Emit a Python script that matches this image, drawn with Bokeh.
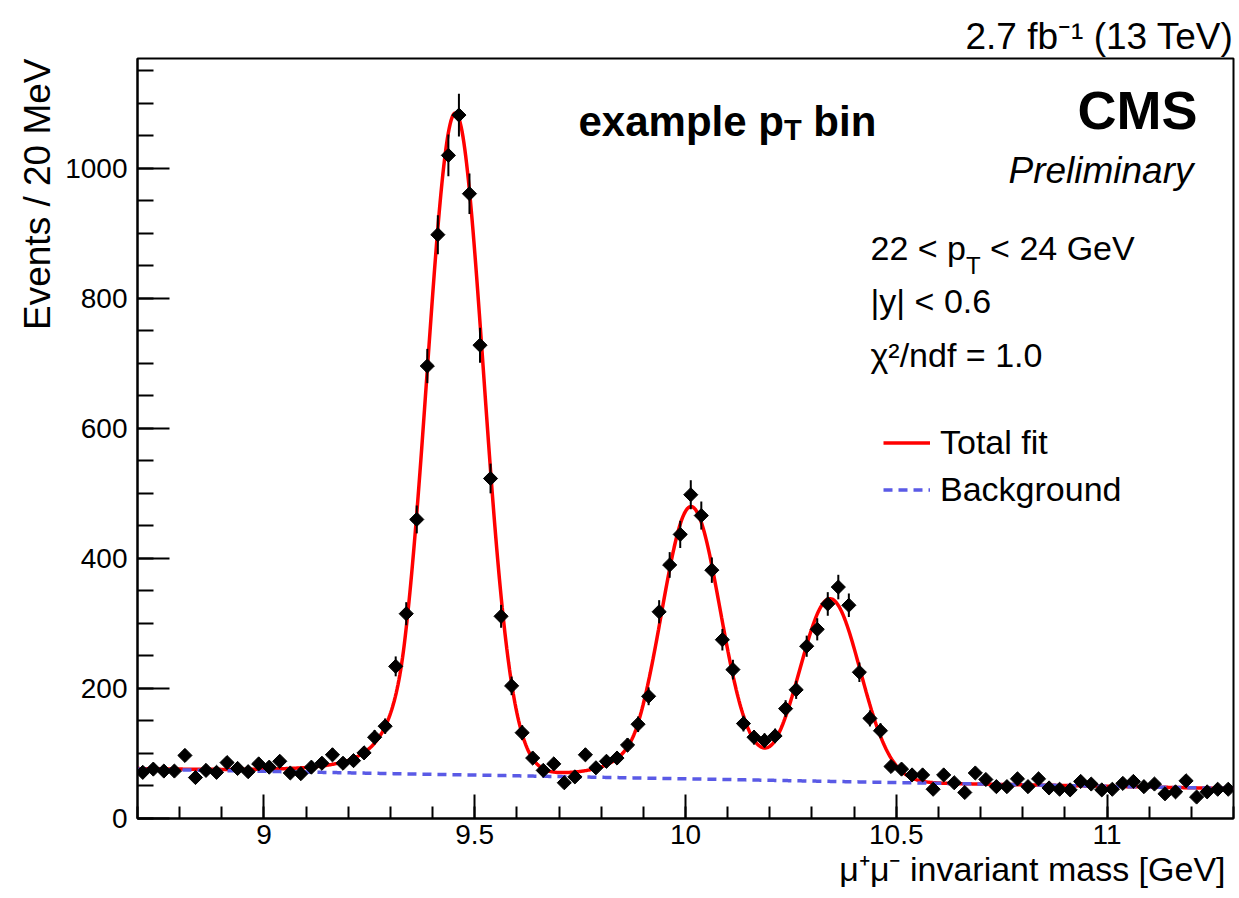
import numpy as np
from bokeh.plotting import figure
from bokeh.models import (ColumnDataSource, Label, Legend, LegendItem, FixedTicker, Title)
from bokeh.embed import file_html
from bokeh.resources import INLINE

# ---------------- data ----------------
mass_lo, mass_hi, bin_width = 8.7, 11.3, 0.025
counts = [71, 76, 73, 73, 97, 63, 74, 71, 86, 77,
          72, 84, 79, 88, 70, 69, 79, 85, 98, 85,
          89, 101, 125, 142, 234, 315, 460, 696, 898, 1020,
          1082, 961, 728, 523, 311, 204, 132, 93, 74, 84,
          55, 64, 98, 78, 88, 93, 113, 145, 188, 318,
          390, 437, 498, 466, 382, 275, 229, 146, 125, 120,
          127, 169, 198, 265, 291, 330, 356, 328, 225, 154,
          135, 80, 76, 67, 67, 45, 67, 55, 40, 70,
          60, 49, 49, 61, 49, 61, 47, 45, 44, 57,
          53, 44, 45, 54, 57, 49, 53, 38, 41, 58,
          33, 41, 45, 45]

x_ticks = [9.0, 9.5, 10.0, 10.5, 11.0]
x_tick_labels = ["9", "9.5", "10", "10.5", "11"]
y_ticks = [0, 200, 400, 600, 800, 1000]
y_tick_labels = ["0", "200", "400", "600", "800", "1000"]

# fit model parameters (Upsilon 1S, 2S, 3S + linear background)
peak_mass = [9.454, 10.013, 10.343]
peak_sigma = [0.067, 0.070, 0.072]
peak_height = [1017.0, 416.0, 281.0]
cb_alpha, cb_n = 1.8, 3.0
bkg_at_lo, bkg_slope = 76.0, -11.5

# ---------------- derived ----------------
n_bins = len(counts)
centers = mass_lo + bin_width * (np.arange(n_bins) + 0.5)
cnt = np.array(counts, dtype=float)
err = np.sqrt(cnt)
src = ColumnDataSource(dict(x=centers, y=cnt, lo=cnt - err, hi=cnt + err))


def crystal_ball(x, m, s, a, n):
    t = (x - m) / s
    A = (n / a) ** n * np.exp(-a * a / 2)
    B = n / a - a
    out = np.exp(-t * t / 2)
    tail = t <= -a
    out[tail] = A * (B - t[tail]) ** (-n)
    return out


xf = np.linspace(mass_lo, mass_hi, 1200)
bkg = bkg_at_lo + bkg_slope * (xf - mass_lo)
total = bkg.copy()
for m, s, h in zip(peak_mass, peak_sigma, peak_height):
    total += h * crystal_ball(xf, m, s, cb_alpha, cb_n)

# ---------------- figure ----------------
FL, FB, FT, FR = 137, 80, 58, 6
W, H = 1239, 898
FONT = "Liberation Sans"
p = figure(width=W, height=H, x_range=(mass_lo, mass_hi), y_range=(0, 1169),
           output_backend="svg", toolbar_location=None,
           min_border_left=FL, min_border_right=FR, min_border_top=FT,
           min_border_bottom=FB)
p.xgrid.visible = False
p.ygrid.visible = False
p.outline_line_color = "black"
p.outline_line_width = 2
p.background_fill_color = "white"
p.border_fill_color = "white"

xa = p.xaxis[0]
xa.ticker = FixedTicker(ticks=x_ticks,
                        minor_ticks=list(np.round(np.arange(8.7, 11.31, 0.1), 2)))
xa.major_label_overrides = {t: l for t, l in zip(x_ticks, x_tick_labels)}
xa.major_tick_in, xa.major_tick_out = 24, 0
xa.minor_tick_in, xa.minor_tick_out = 12, 0
xa.major_label_standoff = 6
ya = p.yaxis[0]
ya.ticker = FixedTicker(ticks=y_ticks, minor_ticks=list(range(0, 1151, 50)))
ya.major_label_overrides = {t: l for t, l in zip(y_ticks, y_tick_labels)}
ya.major_tick_in, ya.major_tick_out = 32, 0
ya.minor_tick_in, ya.minor_tick_out = 16, 0
ya.major_label_standoff = 10
for ax in (xa, ya):
    ax.axis_line_width = 2
    ax.major_tick_line_width = 2
    ax.minor_tick_line_width = 2
    ax.major_label_text_font = FONT
    ax.major_label_text_font_size = "28px"
    ax.major_label_text_color = "black"

# ---------------- outside texts as titles ----------------
t_lumi = Title(text="2.7 fb\u207b\u00b9 (13 TeV)", align="right", text_font=FONT,
               text_font_size="37px", text_font_style="normal", text_color="black",
               standoff=3)
p.add_layout(t_lumi, "above")
t_x = Title(text="\u03bc\u207a\u03bc\u207b invariant mass [GeV]", align="right",
            text_font=FONT, text_font_size="34px", text_font_style="normal",
            text_color="black", offset=8, standoff=2)
p.add_layout(t_x, "below")
t_y = Title(text="Events / 20 MeV", align="right", text_font=FONT,
            text_font_size="37px", text_font_style="normal", text_color="black")
p.add_layout(t_y, "left")

# ---------------- glyphs ----------------
r_fit = p.line(xf, total, line_color="#ff0000", line_width=3.5)
r_bkg = p.line(xf, bkg, line_color="#5a5ae6", line_width=3.5, line_dash="9 6")
p.segment(x0="x", y0="lo", x1="x", y1="hi", source=src, line_color="black", line_width=2)
p.scatter("x", "y", source=src, marker="square", angle=np.pi / 4, size=10,
          fill_color="black", line_color="black")

legend = Legend(items=[LegendItem(label="Total fit", renderers=[r_fit]),
                       LegendItem(label="Background", renderers=[r_bkg])],
                location=(883 - FL, (H - FB) - 510), orientation="vertical")
legend.label_text_font = FONT
legend.label_text_font_size = "34px"
legend.label_text_color = "black"
legend.glyph_width = 47
legend.glyph_height = 41
legend.label_height = 41
legend.spacing = 6
legend.padding = 0
legend.margin = 0
legend.label_standoff = 10
legend.border_line_alpha = 0
legend.background_fill_alpha = 0
p.add_layout(legend)


def lab(text, X, Y, size, style="normal", align="left"):
    # Y is the wanted baseline in canvas pixels; small empirical lift for the renderer
    p.add_layout(Label(x=X - FL, y=(H - FB) - Y + 0.36 * size,
                       x_units="screen", y_units="screen",
                       text=text, text_font=FONT, text_font_size=f"{size}px",
                       text_font_style=style, text_align=align,
                       text_baseline="alphabetic", text_color="black"))


lab("CMS", 1197, 129, 54, style="bold", align="right")
lab("Preliminary", 1193, 183, 37, style="italic", align="right")

F1, F1s = 42, 29
lab("example p", 578, 136, F1, style="bold")
lab("T", 578 + 4.891 * F1, 140, F1s, style="bold")
lab("bin", 578 + 4.891 * F1 + 0.611 * F1s + 0.278 * F1, 136, F1, style="bold")

F2, F2s = 34, 24
lab("22 < p", 870, 260, F2)
lab("T", 870 + 2.808 * F2, 274, F2s)
lab("< 24 GeV", 870 + 2.808 * F2 + 0.611 * F2s + 0.278 * F2, 260, F2)
lab("|y| < 0.6", 870, 313, F2)
lab("\u03c7\u00b2/ndf = 1.0", 870, 367, F2)

open("out.html", "w").write(file_html(p, INLINE))
